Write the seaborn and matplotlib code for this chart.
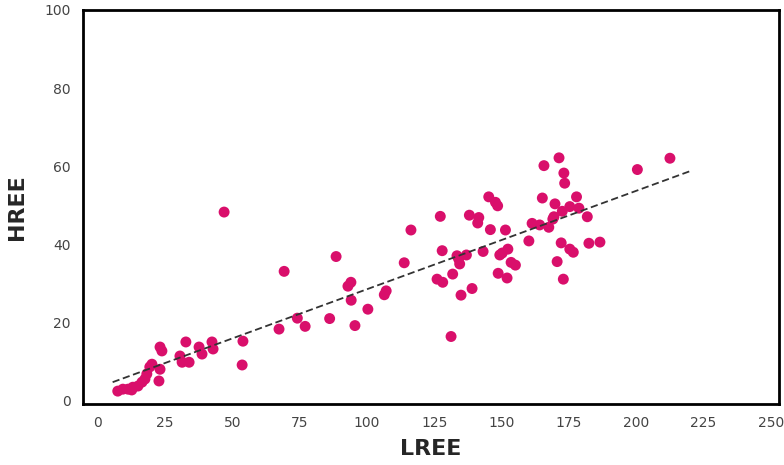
import numpy as np
import pandas as pd
import matplotlib
matplotlib.use("Agg")
import matplotlib.pyplot as plt
import seaborn as sns

lree = [7.4, 9.3, 11.2, 12.6, 13.0, 14.9, 16.4, 17.5, 18.2, 19.3, 20.1, 23.1, 23.8, 23.1, 22.7,
        30.5, 31.3, 32.7, 33.9, 37.6, 38.7, 42.4, 42.8, 46.9, 53.9, 53.6,
        67.3, 69.2, 74.1, 77.0, 86.1, 88.5, 92.9, 94.0, 94.1, 95.5, 100.3, 106.4, 107.1, 113.8, 116.3,
        126.0, 127.2, 127.9, 128.1, 131.2, 131.8, 133.4, 134.0, 134.4, 134.9, 136.9, 138.0, 139.0,
        141.1, 141.5, 143.1, 145.2, 145.8, 147.7, 148.5, 148.7, 149.3, 150.2, 151.4, 152.0, 152.3,
        153.5, 155.1,
        160.1, 161.3, 164.1, 165.1, 165.7, 167.5, 169.0, 169.4, 169.8, 170.6, 171.3, 172.1, 172.5,
        172.9, 173.1, 173.4, 175.3, 175.3, 176.6, 177.8, 178.7, 181.8, 182.4, 186.5, 200.4, 212.5]
hree = [2.3, 2.8, 2.8, 2.6, 3.3, 3.6, 4.6, 5.4, 6.7, 8.5, 9.2, 13.6, 12.6, 7.9, 4.9,
        11.3, 9.7, 14.9, 9.7, 13.6, 11.8, 14.9, 13.1, 48.2, 15.1, 9.0,
        18.2, 33.0, 21.0, 18.9, 20.9, 36.8, 29.2, 30.2, 25.6, 19.1, 23.3, 27.0, 28.0, 35.2, 43.6,
        31.0, 47.1, 38.3, 30.2, 16.3, 32.3, 37.0, 36.2, 34.9, 26.9, 37.2, 47.4, 28.6,
        45.4, 46.8, 38.1, 52.1, 43.7, 50.7, 49.8, 32.5, 37.2, 37.7, 43.6, 31.3, 38.7,
        35.3, 34.6,
        40.8, 45.3, 44.9, 51.8, 60.1, 44.3, 46.4, 47.0, 50.3, 35.5, 62.1, 40.3, 48.4,
        31.0, 58.2, 55.6, 49.6, 38.7, 37.9, 52.1, 49.2, 47.0, 40.2, 40.5, 59.1, 62.0]

x_ticks = [0, 25, 50, 75, 100, 125, 150, 175, 200, 225, 250]
y_ticks = [0, 20, 40, 60, 80, 100]

df = pd.DataFrame({"LREE": lree, "HREE": hree})

sns.set_theme(style="white")
plt.rcParams['font.family'] = ['DejaVu Sans']

fig = plt.figure(figsize=(7.84, 4.65), dpi=100)
ax = fig.add_axes([0.1059, 0.1312, 0.8877, 0.8473])

sns.scatterplot(data=df, x="LREE", y="HREE", ax=ax, color="#D90F6B", s=62,
                edgecolor="none", linewidth=0, zorder=3)

slope, intercept = np.polyfit(df["LREE"], df["HREE"], 1)
fx = np.array([5.5, 220.0])
fit = pd.DataFrame({"LREE": fx, "HREE": slope * fx + intercept})
sns.lineplot(data=fit, x="LREE", y="HREE", ax=ax, color="#333333", linewidth=1.3,
             linestyle=(0, (4, 2)), zorder=4)

ax.set_xlim(-5.5, 253)
ax.set_ylim(-1, 100)
ax.set_xticks(x_ticks)
ax.set_yticks(y_ticks)
ax.tick_params(direction="in", length=5, width=1, colors="#222222",
               labelcolor="#444444", labelsize=10, pad=9)
for sp in ax.spines.values():
    sp.set_linewidth(2.0)
    sp.set_color("black")
ax.set_xlabel("LREE", fontsize=16, fontweight="bold", labelpad=6)
ax.set_ylabel("HREE", fontsize=16, fontweight="bold", labelpad=12)

fig.savefig("out.png", dpi=100)
